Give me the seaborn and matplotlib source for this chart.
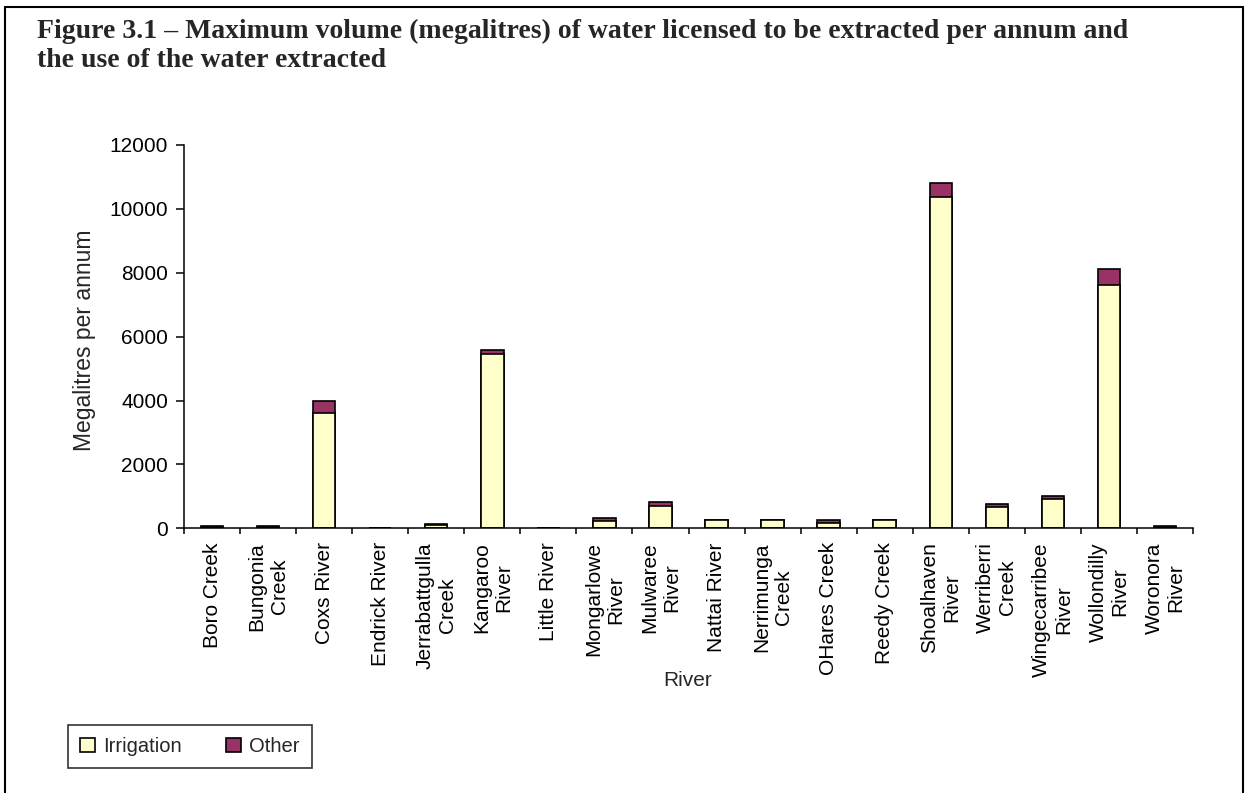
import numpy as np
import pandas as pd
import matplotlib
matplotlib.use("Agg")
import matplotlib.pyplot as plt
import seaborn as sns
from matplotlib.patches import Patch
from matplotlib.lines import Line2D
from matplotlib.ticker import FixedLocator

rivers = ["Boro Creek", "Bungonia\nCreek", "Coxs River", "Endrick River",
          "Jerrabattgulla\nCreek", "Kangaroo\nRiver", "Little River",
          "Mongarlowe\nRiver", "Mulwaree\nRiver", "Nattai River",
          "Nerrimunga\nCreek", "OHares Creek", "Reedy Creek",
          "Shoalhaven\nRiver", "Werriberri\nCreek", "Wingecarribee\nRiver",
          "Wollondilly\nRiver", "Woronora\nRiver"]
irrigation = [30, 30, 3600, 0, 110, 5450, 0, 240, 690, 250, 250, 180, 250,
              10380, 680, 930, 7620, 30]
other = [30, 30, 370, 0, 15, 120, 0, 80, 130, 0, 0, 70, 0,
         430, 70, 70, 500, 30]
y_ticks = [0, 2000, 4000, 6000, 8000, 10000, 12000]
title_lines = ["Figure 3.1 \u2013 Maximum volume (megalitres) of water licensed to be extracted per annum and",
               "the use of the water extracted"]

IRR_COLOR = "#FFFFCC"
OTH_COLOR = "#993366"

df = pd.DataFrame({"River": rivers, "Irrigation": irrigation, "Other": other})
df["Total"] = df["Irrigation"] + df["Other"]

sns.set_theme(style="white")
plt.rcParams["font.family"] = ["Liberation Sans", "DejaVu Sans"]

W, H = 1248, 793
fig = plt.figure(figsize=(W / 100, H / 100), dpi=100)
ax = fig.add_axes([184 / W, 1 - 528.3 / H, (1193 - 184) / W, (528.3 - 145) / H])

sns.barplot(data=df, x="River", y="Total", color=OTH_COLOR, saturation=1,
            width=0.4, edgecolor="black", linewidth=1.2, ax=ax)
sns.barplot(data=df, x="River", y="Irrigation", color=IRR_COLOR, saturation=1,
            width=0.4, edgecolor="black", linewidth=1.2, ax=ax)

ax.set_xlim(-0.5, len(rivers) - 0.5)
ax.set_ylim(0, 12000)
ax.set_yticks(y_ticks)
ax.set_yticklabels([str(v) for v in y_ticks], fontsize=15)
ax.set_xlabel("")
ax.set_ylabel("")

ax.set_xticks(range(len(rivers)))
ax.set_xticklabels(rivers, rotation=90, fontsize=15, ha="center", va="top",
                   multialignment="center")
ax.xaxis.set_minor_locator(FixedLocator(np.arange(-0.5, len(rivers), 1.0)))
ax.tick_params(axis="x", which="major", length=0, pad=10, colors="black")
ax.tick_params(axis="x", which="minor", length=4, width=1.1, direction="out",
               color="black", bottom=True)
ax.tick_params(axis="y", which="major", length=5.5, width=1.1, direction="out",
               color="black", left=True, pad=6, labelcolor="black")

for s in ["top", "right"]:
    ax.spines[s].set_visible(False)
for s in ["left", "bottom"]:
    ax.spines[s].set_color("black")
    ax.spines[s].set_linewidth(1.1)

fig.text(84 / W, 1 - 340 / H, "Megalitres per annum", rotation=90,
         ha="center", va="center", fontsize=16.5)
fig.text(688 / W, 1 - 681 / H, "River", ha="center", va="center", fontsize=15)

for i, line in enumerate(title_lines):
    fig.text(37 / W, 1 - (38 + 29 * i) / H, line, ha="left", va="baseline",
             fontsize=20, fontweight="bold",
             family=["Liberation Serif", "DejaVu Serif"])

handles = [Patch(facecolor=IRR_COLOR, edgecolor="black", linewidth=1.2, label="Irrigation"),
           Patch(facecolor=OTH_COLOR, edgecolor="black", linewidth=1.2, label="Other")]
leg = fig.legend(handles=handles, loc="upper left",
                 bbox_to_anchor=(68 / W, 1 - 725 / H), ncol=2, frameon=True,
                 fancybox=False, edgecolor="black", fontsize=14.5,
                 handlelength=0.75, handleheight=0.75, handletextpad=0.4,
                 columnspacing=2.2, borderaxespad=0, borderpad=0.6)
leg.get_frame().set_linewidth(1.2)

# figure border (left, top, right)
fig.add_artist(Line2D([5 / W, 5 / W], [0, 1 - 7 / H], transform=fig.transFigure,
                      color="black", linewidth=1.5))
fig.add_artist(Line2D([5 / W, 1243 / W], [1 - 7 / H, 1 - 7 / H],
                      transform=fig.transFigure, color="black", linewidth=1.5))
fig.add_artist(Line2D([1243 / W, 1243 / W], [0, 1 - 7 / H],
                      transform=fig.transFigure, color="black", linewidth=1.5))

fig.savefig("out.png", dpi=100, facecolor="white")
